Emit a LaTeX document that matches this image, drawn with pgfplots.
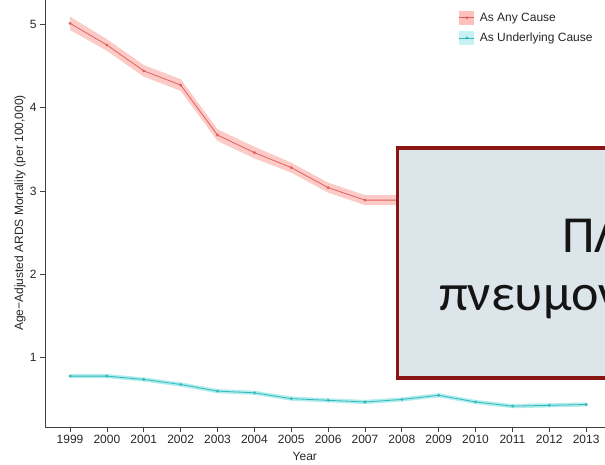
\documentclass[border=0pt]{standalone}
\usepackage{pgfplots}
\pgfplotsset{compat=1.18}
\usepackage{pgfplotstable}
\usepgfplotslibrary{fillbetween}
\usepackage{fontspec}
\setmainfont{Liberation Sans}
\newfontfamily\greekfont{Carlito}

\definecolor{anyline}{HTML}{E15F5C}
\definecolor{anyband}{HTML}{F8766D}
\definecolor{undline}{HTML}{2DBABB}
\definecolor{undband}{HTML}{00BFC4}
\definecolor{boxred}{HTML}{8B1414}
\definecolor{boxfill}{HTML}{DCE5EA}

% age-adjusted ARDS mortality per 100,000, with band limits
\pgfplotstableread{
year any  anylo anyhi und  undlo undhi
1999 5.01 4.93  5.09  0.78 0.755 0.805
2000 4.75 4.68  4.82  0.78 0.755 0.805
2001 4.44 4.37  4.51  0.74 0.715 0.765
2002 4.27 4.20  4.34  0.68 0.655 0.705
2003 3.67 3.60  3.74  0.60 0.575 0.625
2004 3.46 3.39  3.53  0.58 0.555 0.605
2005 3.28 3.22  3.34  0.51 0.485 0.535
2006 3.04 2.98  3.10  0.49 0.465 0.515
2007 2.89 2.83  2.95  0.47 0.445 0.495
2008 2.89 2.83  2.95  0.50 0.475 0.525
2009 2.86 2.80  2.92  0.55 0.525 0.575
2010 2.78 2.72  2.84  0.47 0.445 0.495
2011 2.72 2.66  2.78  0.42 0.395 0.445
2012 2.68 2.62  2.74  0.43 0.405 0.455
2013 2.65 2.59  2.71  0.44 0.415 0.465
}\ards

\begin{document}
\begin{tikzpicture}
\begin{axis}[
    at={(45pt,38pt)}, anchor=south west,
    scale only axis, width=560pt, height=427pt,
    xmin=1998.32, xmax=2013.51,
    ymin=0.17, ymax=5.29,
    axis x line*=bottom, axis y line*=left,
    axis line style={-, black!75, line width=0.8pt},
    tick style={black!75, line width=0.8pt},
    tick align=outside, major tick length=5pt,
    xtick={1999,...,2013}, ytick={1,2,3,4,5},
    /pgf/number format/1000 sep={},
    /pgf/number format/assume math mode=true,
    ticklabel style={font=\fontsize{12}{14}\selectfont, text=black!85},
    every axis y label/.style={at={(rel axis cs:0,0.501)}, anchor=center,
        rotate=90, yshift=25pt, font=\fontsize{12}{14}\selectfont, text=black!85},
    every axis x label/.style={at={(rel axis cs:0.464,0)}, anchor=center,
        yshift=-29pt, font=\fontsize{12}{14}\selectfont, text=black!85},
    ylabel={Age−Adjusted ARDS Mortality (per 100,000)},
    xlabel={Year},
    legend style={at={(rel axis cs:0.739,0.975)}, anchor=north west,
        draw=none, fill=none, inner sep=0pt, row sep=6pt,
        font=\fontsize{12}{14}\selectfont, text=black!85,
        nodes={inner sep=2pt},
        /tikz/every odd column/.append style={column sep=3pt}},
    legend cell align=left,
]
\addplot[name path=ahi, draw=none, forget plot] table[x=year, y=anyhi] {\ards};
\addplot[name path=alo, draw=none, forget plot] table[x=year, y=anylo] {\ards};
\addplot[anyband, fill opacity=0.38, draw=none, forget plot] fill between[of=ahi and alo];
\addplot[name path=uhi, draw=none, forget plot] table[x=year, y=undhi] {\ards};
\addplot[name path=ulo, draw=none, forget plot] table[x=year, y=undlo] {\ards};
\addplot[undband, fill opacity=0.3, draw=none, forget plot] fill between[of=uhi and ulo];

\addplot[anyline, line width=0.8pt, mark=*, mark size=1pt,
    legend image code/.code={
        \fill[anyband, fill opacity=0.45, draw=none] (0pt,-7pt) rectangle (15pt,7pt);
        \draw[anyline, line width=0.8pt] (0pt,0pt) -- (15pt,0pt);
        \fill[anyline] (7.5pt,0pt) circle (1pt);}]
    table[x=year, y=any] {\ards};
\addlegendentry{As Any Cause}
\addplot[undline, line width=0.8pt, mark=*, mark size=1pt,
    legend image code/.code={
        \fill[undband, fill opacity=0.22, draw=none] (0pt,-7pt) rectangle (15pt,7pt);
        \draw[undline, line width=0.8pt] (0pt,0pt) -- (15pt,0pt);
        \fill[undline] (7.5pt,0pt) circle (1pt);}]
    table[x=year, y=und] {\ards};
\addlegendentry{As Underlying Cause}
\end{axis}

% overlay box from the slide, cut by the right edge
\draw[line width=3.3pt, draw=boxred, fill=boxfill] (397.5pt,317pt) rectangle (720pt,87pt);
\node[anchor=base west, inner sep=0pt, font=\greekfont\fontsize{52}{58}\selectfont, text=black!92]
    at (562pt,212pt) {ΠΛΗΘΥΣΜΟΣ};
\node[anchor=base west, inner sep=0pt, font=\greekfont\fontsize{52}{58}\selectfont, text=black!92]
    at (439pt,154pt) {πνευμονικής};

\pgfresetboundingbox
\path (0,0) rectangle (605pt,465pt);
\end{tikzpicture}
\end{document}
